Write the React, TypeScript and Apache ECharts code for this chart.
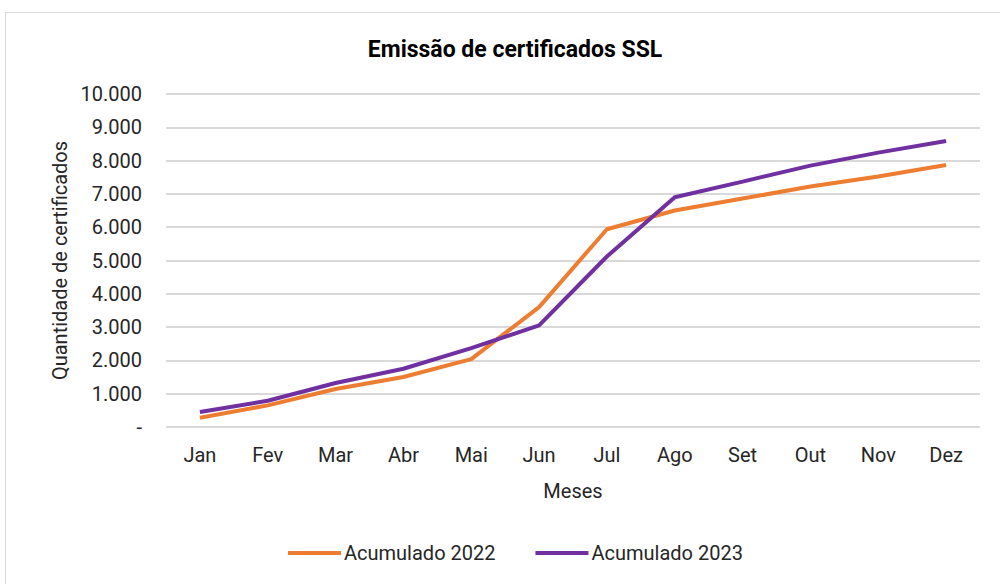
import React, { useEffect, useRef } from "react";
import * as echarts from "echarts";

const months = ["Jan", "Fev", "Mar", "Abr", "Mai", "Jun", "Jul", "Ago", "Set", "Out", "Nov", "Dez"];
const acumulado2022 = [280, 650, 1140, 1500, 2040, 3600, 5940, 6500, 6860, 7220, 7520, 7870];
const acumulado2023 = [450, 790, 1320, 1750, 2370, 3050, 5120, 6900, 7370, 7850, 8240, 8590];
const seriesNames = ["Acumulado 2022", "Acumulado 2023"];
const colors = ["#ED7D31", "#7030A0"];

const FONT = "Roboto";

export default function App() {
  const ref = useRef<HTMLDivElement>(null);
  useEffect(() => {
    if (!ref.current) return;
    const chart = echarts.init(ref.current, null, { renderer: "svg" });
    chart.setOption({
      animation: false,
      backgroundColor: "#ffffff",
      textStyle: { fontFamily: FONT },
      graphic: [
        {
          type: "rect",
          shape: { x: 5.5, y: 12.5, width: 1000, height: 600 },
          style: { fill: "none", stroke: "#d9d9d9", lineWidth: 1 },
          silent: true,
        },
      ],
      title: {
        text: "Emissão de certificados SSL",
        left: 510,
        top: 33,
        textAlign: "center",
        textStyle: { fontFamily: FONT, fontSize: 23, fontWeight: "bold", color: "#000000" },
      },
      legend: {
        data: seriesNames,
        bottom: 16,
        left: 283,
        itemWidth: 53,
        itemHeight: 4,
        itemGap: 40,
        icon: "rect",
        textStyle: { fontFamily: FONT, fontSize: 20, color: "#262626", padding: [0, 0, 0, -2] },
      },
      grid: { left: 166, right: 20, top: 94, bottom: 157, containLabel: false },
      xAxis: {
        type: "category",
        data: months,
        boundaryGap: true,
        name: "Meses",
        nameLocation: "middle",
        nameGap: 54,
        nameTextStyle: { fontFamily: FONT, fontSize: 20, color: "#262626" },
        axisLine: { show: false },
        axisTick: { show: false },
        axisLabel: { fontFamily: FONT, fontSize: 20, color: "#262626", margin: 18 },
      },
      yAxis: {
        type: "value",
        min: 0,
        max: 10000,
        interval: 1000,
        name: "Quantidade de certificados",
        nameLocation: "middle",
        nameGap: 96,
        nameTextStyle: { fontFamily: FONT, fontSize: 20, color: "#262626" },
        axisLine: { show: false },
        axisTick: { show: false },
        splitLine: { lineStyle: { color: "#d9d9d9", width: 2 } },
        axisLabel: {
          fontFamily: FONT,
          fontSize: 20,
          color: "#262626",
          margin: 24,
          formatter: (v: number) =>
            v === 0 ? "-" : v.toString().replace(/\B(?=(\d{3})+(?!\d))/g, "."),
        },
      },
      series: [
        {
          name: seriesNames[0],
          type: "line",
          data: acumulado2022,
          symbol: "none",
          lineStyle: { color: colors[0], width: 4 },
          itemStyle: { color: colors[0] },
        },
        {
          name: seriesNames[1],
          type: "line",
          data: acumulado2023,
          symbol: "none",
          lineStyle: { color: colors[1], width: 4 },
          itemStyle: { color: colors[1] },
        },
      ],
    });
    return () => chart.dispose();
  }, []);
  return (
    <div
      ref={ref}
      style={{ position: "fixed", left: 0, top: 0, width: 1000, height: 584 }}
    />
  );
}
